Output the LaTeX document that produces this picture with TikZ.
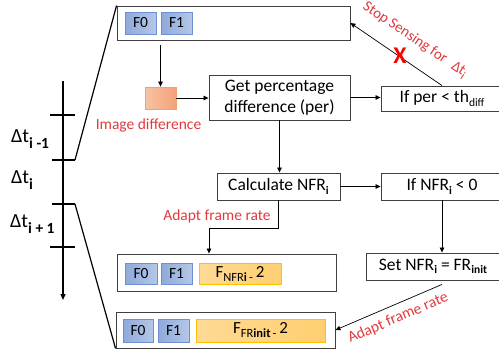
\documentclass[tikz,border=0pt]{standalone}
\usepackage{fontspec}
\setmainfont{Carlito}
\usetikzlibrary{arrows.meta}
\definecolor{lbl}{HTML}{E0393E}
\definecolor{boxgray}{HTML}{404040}
\definecolor{blueL}{HTML}{8EA9DB}
\definecolor{blueR}{HTML}{B4C7E7}
\definecolor{blueB}{HTML}{6F8FD0}
\definecolor{orL}{HTML}{F8C3A5}
\definecolor{orR}{HTML}{F4A278}
\definecolor{orB}{HTML}{F3A070}
\definecolor{yeL}{HTML}{FFDA95}
\definecolor{yeR}{HTML}{FFCF70}
\definecolor{yeB}{HTML}{FFC000}
\newcommand\mysub[1]{\raisebox{-3.5pt}{\fontsize{11.5}{12}\selectfont #1}}
\newcommand\fsub[1]{\raisebox{-4pt}{\fontsize{12.5}{13}\selectfont #1}}
\newcommand\dsub[1]{\raisebox{-5.5pt}{\fontsize{15.5}{16}\selectfont\bfseries #1}}
\begin{document}
\begin{tikzpicture}[x=1pt,y=-1pt,
  box/.style={draw=boxgray, line width=0.9pt, inner sep=0pt, align=center,
    font=\fontsize{17.5}{21}\selectfont},
  fbox/.style={draw=blueB, line width=0.8pt, left color=blueL, right color=blueR,
    inner sep=0pt, minimum height=22pt, minimum width=31pt, font=\fontsize{15.5}{16}\selectfont},
  ybox/.style={draw=yeB, line width=0.8pt, left color=yeL, right color=yeR,
    inner sep=0pt, font=\fontsize{17}{17}\selectfont},
  redlbl/.style={text=lbl, inner sep=0pt, font=\fontsize{15.5}{16}\selectfont},
  arr/.style={line width=0.7pt, -{Triangle[length=5pt,width=4.5pt]}},
  tl/.style={line width=1.2pt},
  dlbl/.style={anchor=west, inner sep=0pt, font=\fontsize{20}{20}\selectfont}]
\useasboundingbox (0,0) rectangle (499,356);
\clip (0,0) rectangle (499,356);

% top frame box
\node[box, minimum width=233pt, minimum height=34pt] (top) at (233.5,23) {};
\node[fbox] (f0a) at (140.5,23) {F0};
\node[fbox] (f1a) at (176.5,23) {F1};

% image difference
\node[draw=orB, line width=0.8pt, left color=orL, right color=orR,
  minimum width=31pt, minimum height=22pt, inner sep=0pt] (imd) at (160.5,98) {};
\node[redlbl] (imdl) at (148.5,125) {Image difference};

\node[box, minimum width=141pt, minimum height=45pt] (get) at (279.5,97.5)
  {Get percentage\\difference (per)};
\node[box, minimum width=122pt, minimum height=25pt] (ifper) at (442,98.5)
  {If per < th\mysub{diff}};
\node[box, minimum width=123pt, minimum height=27pt] (calc) at (278.5,186.5)
  {Calculate NFR\mysub{\textbf{i}}};
\node[box, minimum width=122pt, minimum height=27pt] (ifnfr) at (442,186.5)
  {If NFR\mysub{\textbf{i}} < 0};
\node[box, minimum width=134pt, minimum height=27pt] (setb) at (433,266.5)
  {Set NFR\mysub{\textbf{i}} = FR\mysub{\textbf{init}}};

% second frame box
\node[box, minimum width=219pt, minimum height=37pt] (box2) at (226.5,272.5) {};
\node[fbox, minimum width=32pt, minimum height=21pt] (f0b) at (141,273.5) {F0};
\node[fbox, minimum height=21pt] (f1b) at (176.5,273.5) {F1};
\node[ybox, minimum width=82pt, minimum height=21pt] (fnfr) at (240,273.5)
  {F\fsub{NFR\textbf{i}}\fsub{\,-}\,2};

% third frame box
\node[box, minimum width=219pt, minimum height=36pt] (box3) at (225.5,330) {};
\node[fbox, minimum width=30pt, minimum height=23pt] (f0c) at (138,330.5) {F0};
\node[fbox, minimum height=23pt] (f1c) at (173.5,330.5) {F1};
\node[ybox, minimum width=129pt, minimum height=23pt] (ffr) at (260.5,330.5)
  {F\fsub{FR\textbf{init}}\fsub{\,-}\,2};

% connectors
\draw[arr] (imd.north |- top.south) ++(0,5) -- (imd.north);
\draw[arr] (imd.east) -- (get.west |- imd.east);
\draw[arr] (get.east) -- (get.east -| ifper.west);
\draw[arr] (ifper.north) -- (top.east);
\draw[arr] (get.south) -- (get.south |- calc.north);
\draw[arr] (calc.east) -- (ifnfr.west);
\draw[arr] (ifnfr.south) -- (ifnfr.south |- setb.north);
\coordinate (bend) at (209,228);
\draw[arr] (calc.south) |- (bend) -- (bend |- box2.north);
\draw[arr] (setb.south -| ifnfr.south) ++(0,4) -- (box3.east);

% labels
\node[redlbl] (adl1) at (217,216) {Adapt frame rate};
\node[redlbl, rotate=23] (adl2) at (398,318) {Adapt frame rate};
\node[redlbl, rotate=-34, font=\fontsize{15}{15}\selectfont] (stop) at (415,40)
  {Stop Sensing for \,\,Δt\mysub{i}};
\node[text=red, inner sep=0pt, font=\fontsize{24}{24}\selectfont\bfseries] (xx) at (400,56) {X};

% timeline
\coordinate (tlA) at (63,81);
\coordinate (tlB) at (63,300);
\draw[tl, -{Triangle[length=6pt,width=5pt]}] (tlA) -- (tlB);
\coordinate (k1a) at (50,115); \coordinate (k1b) at (75,115);
\coordinate (k2a) at (52,160); \coordinate (k2b) at (75,160);
\coordinate (k3a) at (52,204); \coordinate (k3b) at (75,204);
\coordinate (k4a) at (50,247); \coordinate (k4b) at (75,247);
\draw[tl] (k1a) -- (k1b);
\draw[tl] (k2a) -- (k2b);
\draw[tl] (k3a) -- (k3b);
\draw[tl] (k4a) -- (k4b);
\draw[tl] (k2b) -- (top.north west);
\draw[tl] (k3b) -- (box3.south west);

\node[dlbl] (d1) at (11,139) {Δt\dsub{i -1}};
\node[dlbl] (d2) at (11,180) {Δt\dsub{i}};
\node[dlbl] (d3) at (10,224) {Δt\dsub{i + 1}};
\end{tikzpicture}
\end{document}
